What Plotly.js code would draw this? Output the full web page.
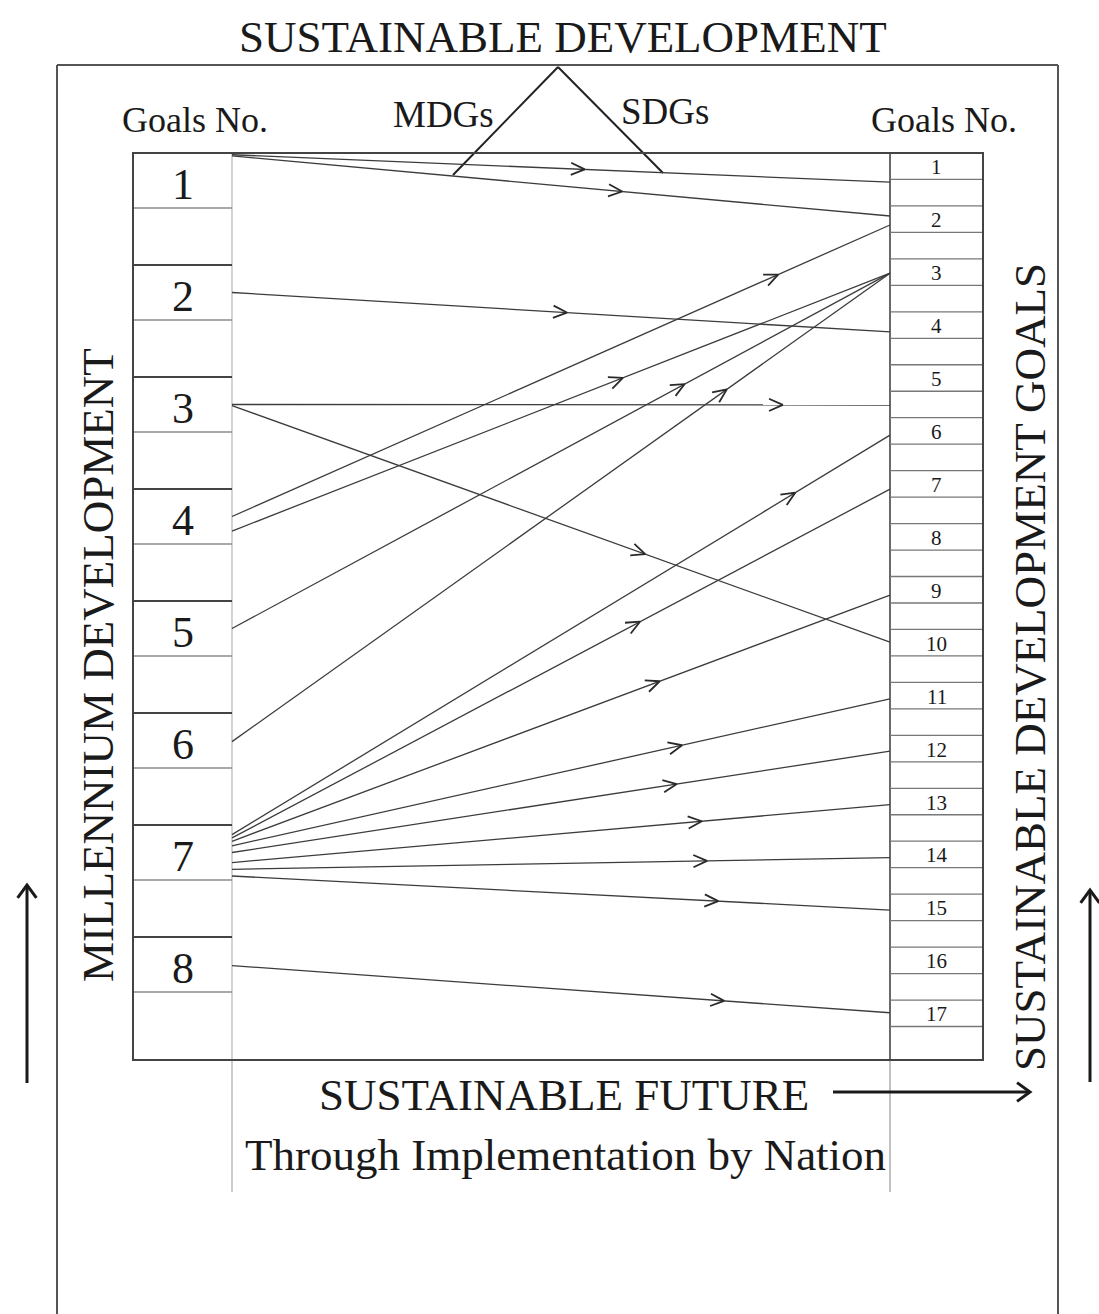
<!DOCTYPE html>
<html><head><meta charset="utf-8">
<script src="https://cdn.plot.ly/plotly-3.0.1.min.js"></script>
<style>html,body{margin:0;padding:0;background:#fff}#chart{width:1099px;height:1314px}</style>
</head><body><div id="chart"></div>
<script>
// ---------------- data ----------------
const mdgGoals = [1, 2, 3, 4, 5, 6, 7, 8];
const sdgGoals = [1, 2, 3, 4, 5, 6, 7, 8, 9, 10, 11, 12, 13, 14, 15, 16, 17];
const mdgLabels = ["1", "2", "3", "4", "5", "6", "7", "8"];
const sdgLabels = ["1", "2", "3", "4", "5", "6", "7", "8", "9", "10", "11", "12", "13", "14", "15", "16", "17"];
// links MDG -> SDG
const linkFrom = [1, 1, 2, 3, 3, 4, 4, 5, 6, 7, 7, 7, 7, 7, 7, 7, 7, 8];
const linkTo   = [1, 2, 4, 5, 10, 2, 3, 3, 3, 6, 7, 9, 11, 12, 13, 14, 15, 17];
// where each link leaves / enters its box (in goal units)
const linkFromPos = [0.77, 0.78, 2.0, 3.0, 3.01, 4.0, 4.13, 5.0, 6.01, 6.84, 6.87, 6.90, 6.94, 7.0, 7.09, 7.15, 7.21, 8.01];
const linkToPos   = [1.30, 1.94, 4.13, 5.51, 9.99, 2.11, 3.02, 3.02, 3.02, 6.08, 7.10, 9.10, 11.06, 12.05, 13.06, 14.06, 15.05, 16.99];
// arrow-head position along each link (fraction of length)
const arrowAt = [0.536, 0.593, 0.509, 0.837, 0.628, 0.830, 0.594, 0.688, 0.752, 0.856, 0.620, 0.650, 0.684, 0.676, 0.714, 0.722, 0.739, 0.748];

// ---------------- geometry ----------------
const W = 1099, H = 1314;
const G = {xL0: 133, xL1: 232, xR0: 890, xR1: 983, top: 153, bottom: 1060, ext: 1192};
const mdgStep = 112, sdgStep = 52.94;
const mdgY = g => G.top + 27.5 + (g - 1) * mdgStep;
const sdgY = g => G.top + sdgStep / 4 + (g - 1) * sdgStep;
const serif = "Liberation Serif, 'Times New Roman', serif";
const ink = "#1a1a1a";

// link lines
const lx = [], ly = [], cx = [], cy = [];
function chevron(xt, yt, dx, dy, len, halfDeg, X, Y) {
  const a = halfDeg * Math.PI / 180, c = Math.cos(a), s = Math.sin(a);
  const bx = -dx, by = -dy;
  X.push(xt + len * (bx * c - by * s), xt, xt + len * (bx * c + by * s), null);
  Y.push(yt + len * (bx * s + by * c), yt, yt + len * (-bx * s + by * c), null);
}
for (let i = 0; i < linkFrom.length; i++) {
  const x0 = G.xL1, y0 = mdgY(linkFromPos[i]);
  const x1 = G.xR0, y1 = sdgY(linkToPos[i]);
  lx.push(x0, x1, null); ly.push(y0, y1, null);
  const t = arrowAt[i];
  const xt = x0 + t * (x1 - x0), yt = y0 + t * (y1 - y0);
  const len = Math.hypot(x1 - x0, y1 - y0);
  chevron(xt, yt, (x1 - x0) / len, (y1 - y0) / len, 15, 24, cx, cy);
}

const traces = [
  {x: lx, y: ly, mode: "lines", line: {color: "#3c3c3c", width: 1.3}, hoverinfo: "skip", showlegend: false},
  {x: cx, y: cy, mode: "lines", line: {color: "#2a2a2a", width: 1.8}, hoverinfo: "skip", showlegend: false}
];

// thick arrows
const ax = [], ay = [];
function bigArrow(x0, y0, x1, y1) {
  ax.push(x0, x1, null); ay.push(y0, y1, null);
  const len = Math.hypot(x1 - x0, y1 - y0);
  chevron(x1, y1, (x1 - x0) / len, (y1 - y0) / len, 16, 36, ax, ay);
}
bigArrow(833, 1092, 1030, 1092);
bigArrow(27, 1083, 27, 885);
bigArrow(1090, 1082, 1090, 890);
traces.push({x: ax, y: ay, mode: "lines", line: {color: ink, width: 3}, hoverinfo: "skip", showlegend: false});

// ---------------- shapes ----------------
const shapes = [];
const ln = (x0, y0, x1, y1, color, width) => shapes.push({type: "line", x0, y0, x1, y1, line: {color, width}, layer: "below"});
// outer frame
ln(57, 65, 1058, 65, "#555", 2);
ln(57, 65, 57, H + 5, "#555", 2);
ln(1058, 65, 1058, H + 5, "#555", 2);
// triangle
ln(453, 175, 558, 67, "#222", 2);
ln(558, 67, 663, 173, "#222", 2);
// extended vertical guides
ln(G.xL1, G.bottom, G.xL1, G.ext, "#aaa", 1.2);
ln(G.xR0, G.bottom, G.xR0, G.ext, "#999", 1.2);
// main box
shapes.push({type: "rect", x0: G.xL0, y0: G.top, x1: G.xR1, y1: G.bottom, line: {color: "#444", width: 2}});
ln(G.xL1, G.top, G.xL1, G.bottom, "#b5b5b5", 1.2);
ln(G.xR0, G.top, G.xR0, G.bottom, "#444", 1.6);
// left rows
mdgGoals.forEach(g => {
  const yc = mdgY(g);
  if (g > 1) ln(G.xL0, yc - 27.5, G.xL1, yc - 27.5, "#444", 1.8);
  ln(G.xL0, yc + 27.5, G.xL1, yc + 27.5, "#8a8a8a", 1.4);
});
// right rows
sdgGoals.forEach(k => {
  const yc = sdgY(k);
  if (k > 1) ln(G.xR0, yc - sdgStep / 4, G.xR1, yc - sdgStep / 4, "#777", 1.3);
  ln(G.xR0, yc + sdgStep / 4, G.xR1, yc + sdgStep / 4, "#777", 1.3);
});

// ---------------- text ----------------
const ann = [];
const txt = (x, y, text, size, extra) => ann.push(Object.assign({x, y, text, showarrow: false, xanchor: "center", yanchor: "middle", font: {family: serif, size, color: ink}}, extra || {}));
txt(563, 37, "SUSTAINABLE DEVELOPMENT", 45);
txt(195, 120, "Goals No.", 36);
txt(944, 120, "Goals No.", 36);
txt(443, 114, "MDGs", 37);
txt(665, 111, "SDGs", 37);
txt(98, 665, "MILLENNIUM DEVELOPMENT", 45, {textangle: -90});
txt(1030, 667, "SUSTAINABLE DEVELOPMENT GOALS", 45, {textangle: -90});
txt(564, 1095, "SUSTAINABLE FUTURE", 45);
txt(565, 1155, "Through Implementation by Nation", 45);
mdgGoals.forEach((g, i) => txt((G.xL0 + G.xL1) / 2, mdgY(g) + 4, mdgLabels[i], 44));
sdgGoals.forEach((k, i) => txt((G.xR0 + G.xR1) / 2, sdgY(k) + 1, sdgLabels[i], 21));

const layout = {
  width: W, height: H, margin: {l: 0, r: 0, t: 0, b: 0},
  paper_bgcolor: "#fff", plot_bgcolor: "#fff",
  xaxis: {range: [0, W], visible: false, fixedrange: true},
  yaxis: {range: [H, 0], visible: false, fixedrange: true},
  shapes, annotations: ann, showlegend: false
};
Plotly.newPlot("chart", traces, layout, {displayModeBar: false, staticPlot: true});
</script></body></html>
